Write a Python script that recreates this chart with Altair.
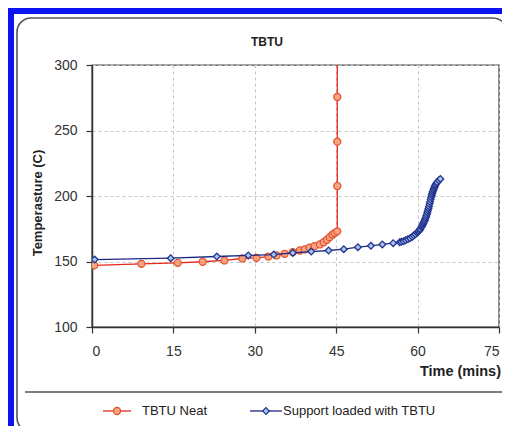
import altair as alt
import pandas as pd

# ---- data ----
neat_time = [0.4, 9.1, 15.8, 20.4, 24.4, 27.7, 30.3, 32.5, 34.0, 35.5, 37.0, 38.3, 39.2,
             40.1, 41.0, 42.0, 42.7, 43.3, 43.8, 44.3, 44.7, 45.2, 45.2, 45.2, 45.2, 45.2]
neat_temp = [147.0, 148.2, 149.0, 149.8, 150.8, 152.3, 152.8, 153.8, 154.6, 155.9, 157.1, 158.4, 159.2,
             160.5, 161.7, 163.0, 164.7, 166.6, 168.6, 170.4, 171.7, 173.0, 207.6, 241.5, 275.6, 330.0]

supp_time = [0.5, 14.5, 23.0, 28.8, 33.5, 37.0, 40.4, 43.6, 46.4, 49.0, 51.4, 53.5, 55.5, 56.7,
             57.0, 57.4, 57.8, 58.2, 58.6, 59.0, 59.3, 59.6, 59.9, 60.1, 60.2, 60.4, 60.5, 60.7, 60.8,
             60.9, 61.0, 61.1, 61.2, 61.3, 61.4, 61.5, 61.6, 61.7, 61.8, 61.9, 62.0, 62.1, 62.2,
             62.3, 62.4, 62.5, 62.6, 62.7, 62.8, 62.9, 63.0, 63.1, 63.2, 63.3, 63.45, 63.6, 63.9, 64.2]
supp_temp = [151.5, 152.5, 153.8, 154.6, 155.3, 156.6, 157.6, 158.4, 159.4, 160.9, 162.0, 163.0, 164.0, 164.7,
             165.0, 165.5, 166.2, 167.0, 167.8, 168.8, 169.8, 170.8, 172.0, 172.7, 173.3, 174.1, 174.8, 176.2, 177.0,
             177.8, 178.6, 179.5, 180.4, 181.3, 182.4, 183.5, 184.7, 186.0, 187.5, 189.0, 190.5, 192.0, 193.8,
             195.5, 197.3, 199.0, 200.6, 202.0, 203.3, 204.5, 205.6, 206.7, 207.6, 208.5, 209.5, 210.5, 211.8, 213.0]

series_names = ["TBTU Neat", "Support loaded with TBTU"]
x_ticks = [0, 15, 30, 45, 60, 75]
y_ticks = [100, 150, 200, 250, 300]

FONT = "Liberation Sans"
RED_LINE, RED_FILL, RED_STROKE = "#e8281e", "#f9a27e", "#e0502e"
BLUE_LINE, BLUE_FILL, BLUE_STROKE = "#1c2784", "#a9c6ee", "#22358f"

neat = pd.DataFrame({"t": neat_time, "T": neat_temp})
supp = pd.DataFrame({"t": supp_time, "T": supp_temp})
one = pd.DataFrame({"a": [0]})

xs = alt.Scale(domain=[0, 75], nice=False)
ys = alt.Scale(domain=[100, 300], nice=False)

X = alt.X("t:Q", scale=xs, axis=alt.Axis(values=x_ticks, title=None, grid=True, tickSize=6,
                                         labelPadding=11, format="d"))
Y = alt.Y("T:Q", scale=ys, axis=alt.Axis(values=y_ticks, title=None, grid=True, tickSize=6,
                                         labelPadding=9, format="d"))

# decorations (pixel coordinates relative to plot area origin)
blue_top = alt.Chart(one).mark_rect(color="#0a14f0").encode(
    x=alt.value(-84), x2=alt.value(410), y=alt.value(-57), y2=alt.value(-51))
blue_left = alt.Chart(one).mark_rect(color="#0a14f0").encode(
    x=alt.value(-84), x2=alt.value(-78), y=alt.value(-57), y2=alt.value(370))
frame = alt.Chart(one).mark_rect(fillOpacity=0, fill="white", stroke="#555555", strokeWidth=1.6,
                                 cornerRadius=14).encode(
    x=alt.value(-75), x2=alt.value(415), y=alt.value(-47), y2=alt.value(367))
sep = alt.Chart(one).mark_rule(color="#555555", strokeWidth=1.4).encode(
    x=alt.value(-67), x2=alt.value(410), y=alt.value(327))

title = alt.Chart(one).mark_text(text="TBTU", font=FONT, fontSize=12, fontWeight="bold",
                                 color="#222").encode(x=alt.value(175), y=alt.value(-23))
ytitle = alt.Chart(one).mark_text(text="Temperasture (C)", font=FONT, fontSize=13, fontWeight="bold",
                                  angle=270, color="#222").encode(x=alt.value(-54), y=alt.value(138))
xtitle = alt.Chart(one).mark_text(text="Time (mins)", font=FONT, fontSize=14.5, fontWeight="bold",
                                  align="right", color="#222").encode(x=alt.value(409), y=alt.value(307))

red_line = alt.Chart(neat).mark_line(color=RED_LINE, strokeWidth=1.3, clip=True).encode(x=X, y=Y)
red_pts = alt.Chart(neat).mark_point(shape="circle", filled=True, fill=RED_FILL, stroke=RED_STROKE,
                                     strokeWidth=1.2, size=50, opacity=1, clip=True).encode(x=X, y=Y)
blue_line = alt.Chart(supp).mark_line(color=BLUE_LINE, strokeWidth=1.3, clip=True).encode(x=X, y=Y)
blue_pts = alt.Chart(supp).mark_point(shape="diamond", filled=True, fill=BLUE_FILL, stroke=BLUE_STROKE,
                                      strokeWidth=1.3, size=45, opacity=1, clip=True).encode(x=X, y=Y)

# manual legend
LY = 346
leg = [
    alt.Chart(one).mark_rule(color=RED_LINE, strokeWidth=1.3).encode(x=alt.value(11), x2=alt.value(39), y=alt.value(LY)),
    alt.Chart(one).mark_point(shape="circle", filled=True, fill=RED_FILL, stroke=RED_STROKE, strokeWidth=1.2,
                              size=50, opacity=1).encode(x=alt.value(25), y=alt.value(LY)),
    alt.Chart(one).mark_text(text=series_names[0], font=FONT, fontSize=13, align="left", color="#222").encode(
        x=alt.value(50), y=alt.value(LY)),
    alt.Chart(one).mark_rule(color=BLUE_LINE, strokeWidth=1.3).encode(x=alt.value(158), x2=alt.value(190), y=alt.value(LY)),
    alt.Chart(one).mark_point(shape="diamond", filled=True, fill=BLUE_FILL, stroke=BLUE_STROKE, strokeWidth=1.2,
                              size=45, opacity=1).encode(x=alt.value(174), y=alt.value(LY)),
    alt.Chart(one).mark_text(text=series_names[1], font=FONT, fontSize=13, align="left", color="#222").encode(
        x=alt.value(191), y=alt.value(LY)),
]

chart = alt.layer(
    blue_top, blue_left, frame, sep, title, ytitle, xtitle,
    red_line, red_pts, blue_line, blue_pts, *leg
).properties(
    width=407, height=262,
    autosize=alt.AutoSizeParams(type="none"),
    padding={"left": 84, "top": 57, "right": 3, "bottom": 99},
    background="white",
).configure_view(
    stroke="#4a4a4a", strokeWidth=1.4
).configure_axis(
    labelFont=FONT, labelFontSize=14, labelColor="#333333",
    domainColor="#333333", domainWidth=1.5, tickColor="#333333", tickWidth=1.2,
    gridColor="#c4c4c4", gridDash=[3, 3], gridWidth=1,
)

chart.save("out.html", embed_options={"renderer": "svg", "actions": False})
